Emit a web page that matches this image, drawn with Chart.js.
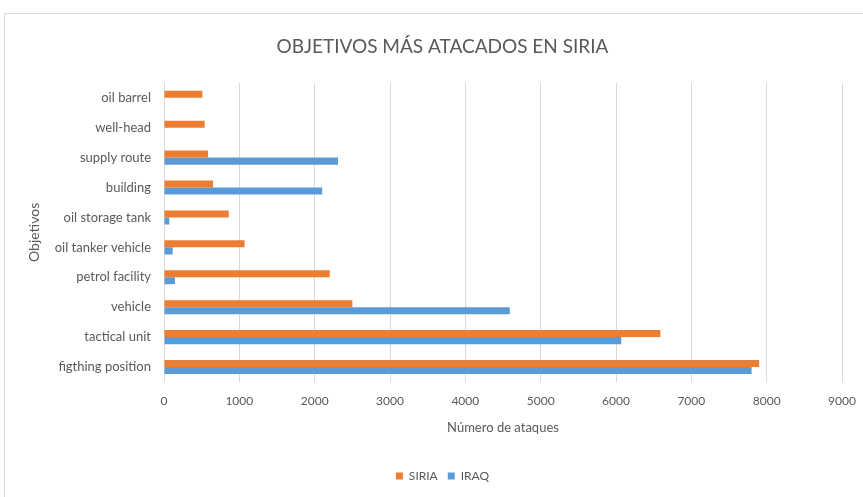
<!DOCTYPE html>
<html>
<head>
<meta charset="utf-8">
<script src="https://cdn.jsdelivr.net/npm/chart.js@4/dist/chart.umd.min.js"></script>
<style>
    html, body { margin: 0; padding: 0; background: #ffffff; }
    #wrap { position: relative; width: 863px; height: 497px; overflow: hidden; }
    #frame { position: absolute; left: 4px; top: 13px; width: 900px; height: 520px; border: 1px solid #d9d9d9; box-sizing: border-box; }
    #chart { position: absolute; left: 0; top: 0; }
</style>
</head>
<body>
<div id="wrap">
    <div id="frame"></div>
    <canvas id="chart" width="863" height="497"></canvas>
</div>
<script>
// Categories, top to bottom as drawn
const objetivos = [
    'oil barrel',
    'well-head',
    'supply route',
    'building',
    'oil storage tank',
    'oil tanker vehicle',
    'petrol facility',
    'vehicle',
    'tactical unit',
    'figthing position'
];

const siria = [510, 540, 585, 650, 860, 1070, 2200, 2500, 6590, 7900];
const iraq = [0, 0, 2310, 2100, 70, 115, 145, 4590, 6070, 7800];

const xTicks = [0, 1000, 2000, 3000, 4000, 5000, 6000, 7000, 8000, 9000];

const textColor = '#595959';
const fontFamily = 'Lato, "Open Sans", sans-serif';

const ctx = document.getElementById('chart').getContext('2d');

new Chart(ctx, {
    type: 'bar',
    data: {
        labels: objetivos,
        datasets: [
            {
                label: 'SIRIA',
                data: siria,
                backgroundColor: '#ed7d31',
                borderWidth: 0,
                categoryPercentage: 0.47,
                barPercentage: 1.0
            },
            {
                label: 'IRAQ',
                data: iraq,
                backgroundColor: '#5b9bd5',
                borderWidth: 0,
                categoryPercentage: 0.47,
                barPercentage: 1.0
            }
        ]
    },
    options: {
        indexAxis: 'y',
        responsive: false,
        animation: false,
        layout: {
            padding: { top: 20, left: 26, right: 4, bottom: 5 }
        },
        plugins: {
            title: {
                display: true,
                text: 'OBJETIVOS MÁS ATACADOS EN SIRIA',
                color: textColor,
                font: { family: fontFamily, size: 19, weight: 'normal' },
                padding: { top: 15, bottom: 25 }
            },
            legend: {
                position: 'bottom',
                labels: {
                    color: textColor,
                    font: { family: fontFamily, size: 12 },
                    boxWidth: 7,
                    boxHeight: 7,
                    padding: 10
                }
            },
            tooltip: { enabled: false }
        },
        scales: {
            x: {
                min: 0,
                max: 9000,
                afterBuildTicks: (scale) => {
                    scale.ticks = xTicks.map(v => ({ value: v }));
                },
                afterFit: (scale) => {
                    // let the plot run closer to the right edge, like the original
                    scale.paddingRight = 21;
                },
                grid: {
                    color: '#d9d9d9',
                    drawTicks: false
                },
                border: { display: false },
                ticks: {
                    color: textColor,
                    font: { family: fontFamily, size: 12 },
                    padding: 12,
                    callback: (value) => String(value)
                },
                title: {
                    display: true,
                    text: 'Número de ataques',
                    color: textColor,
                    font: { family: fontFamily, size: 13 },
                    padding: { top: 0, bottom: 24 }
                }
            },
            y: {
                afterFit: (scale) => {
                    scale.width = 138;
                },
                grid: { display: false, drawTicks: false },
                border: { display: false },
                ticks: {
                    color: textColor,
                    font: { family: fontFamily, size: 13 },
                    padding: 13
                },
                title: {
                    display: true,
                    text: 'Objetivos',
                    color: textColor,
                    font: { family: fontFamily, size: 14 },
                    padding: 0
                }
            }
        }
    }
});
</script>
</body>
</html>
